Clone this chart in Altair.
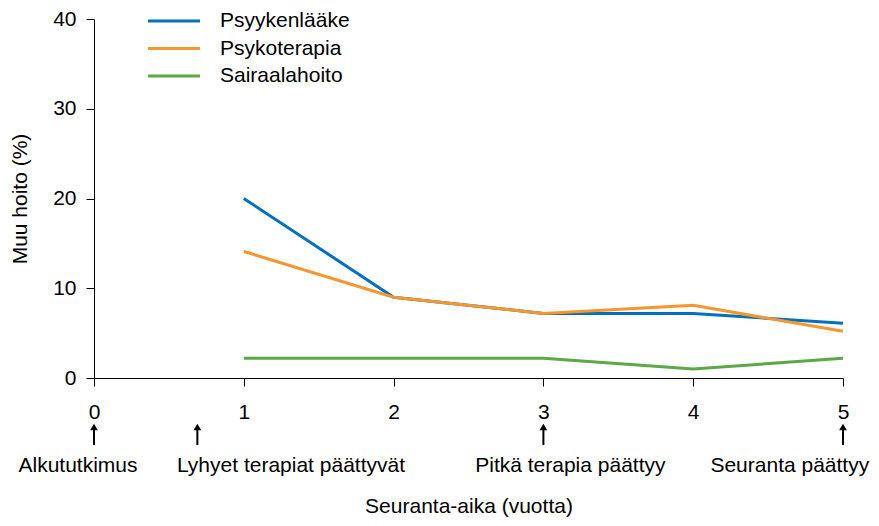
import altair as alt
import pandas as pd

years = [1, 2, 3, 4, 5]
series_names = ["Psyykenlääke", "Psykoterapia", "Sairaalahoito"]
psyykenlaake = [20.0, 9.0, 7.2, 7.2, 6.1]
psykoterapia = [14.1, 9.0, 7.2, 8.1, 5.2]
sairaalahoito = [2.2, 2.2, 2.2, 1.0, 2.2]
colors = ["#0070C0", "#F7962E", "#5CA845"]

x_ticks = [0, 1, 2, 3, 4, 5]
y_ticks = [0, 10, 20, 30, 40]

arrow_x = [0, 0.69, 3, 5]
note_x = [-0.107, 1.315, 3.18, 4.645]
note_text = ["Alkututkimus", "Lyhyet terapiat päättyvät", "Pitkä terapia päättyy", "Seuranta päättyy"]

rows = []
for name, vals in zip(series_names, [psyykenlaake, psykoterapia, sairaalahoito]):
    for x, v in zip(years, vals):
        rows.append({"Vuosi": x, "Arvo": v, "Sarja": name})
df = pd.DataFrame(rows)
arrows = pd.DataFrame({"x": arrow_x})
notes = pd.DataFrame({"x": note_x, "t": note_text})
leg = pd.DataFrame({"Sarja": series_names})

FONT = "Liberation Sans"
FS = 21

xscale = alt.Scale(domain=[0, 5], nice=False, zero=False)
yscale = alt.Scale(domain=[0, 40], nice=False)
cscale = alt.Scale(domain=series_names, range=colors)

lines = alt.Chart(df).mark_line(strokeWidth=3).encode(
    x=alt.X("Vuosi:Q", scale=xscale,
            axis=alt.Axis(values=x_ticks, title="Seuranta-aika (vuotta)", grid=False,
                          tickSize=8, labelPadding=15, titlePadding=73,
                          labelFlush=False, format="d")),
    y=alt.Y("Arvo:Q", scale=yscale,
            axis=alt.Axis(values=y_ticks, title="Muu hoito (%)", grid=False,
                          tickSize=8, labelPadding=10, titlePadding=22)),
    color=alt.Color("Sarja:N", scale=cscale, legend=None),
)

legy = alt.Y("Sarja:N", scale=alt.Scale(type="point", domain=series_names, range=[2, 57], padding=0),
             axis=None)
leg_lines = alt.Chart(leg).mark_rule(strokeWidth=3).encode(
    x=alt.value(54), x2=alt.value(106), y=legy,
    color=alt.Color("Sarja:N", scale=cscale, legend=None),
)
leg_text = alt.Chart(leg).mark_text(fontSize=FS, font=FONT, color="black",
                                    align="left", baseline="middle").encode(
    x=alt.value(126), y=legy, text="Sarja:N"
)

stems = alt.Chart(arrows).mark_rule(color="black", strokeWidth=2).encode(
    x="x:Q", y=alt.value(410), y2=alt.value(426)
)
heads = alt.Chart(arrows).mark_point(shape="triangle-up", filled=True, color="black",
                                      size=60, opacity=1, strokeWidth=0).encode(
    x="x:Q", y=alt.value(408)
)
labels = alt.Chart(notes).mark_text(fontSize=FS, font=FONT, color="black",
                                    align="center", baseline="middle").encode(
    x="x:Q", y=alt.value(447), text="t:N"
)

chart = alt.layer(lines, stems, heads, labels, leg_lines, leg_text).resolve_scale(
    y="independent"
).properties(
    width=749, height=359,
    autosize=alt.AutoSizeParams(type="none"),
    padding={"left": 86, "top": 11, "right": 28, "bottom": 140},
).configure_view(stroke=None).configure_axis(
    domainColor="black", tickColor="black", labelColor="black", titleColor="black",
    labelFont=FONT, titleFont=FONT, labelFontSize=FS, titleFontSize=FS,
    titleFontWeight="normal", domainWidth=1, tickWidth=1,
)

chart.save("out.html", embed_options={"renderer": "svg", "actions": False})
